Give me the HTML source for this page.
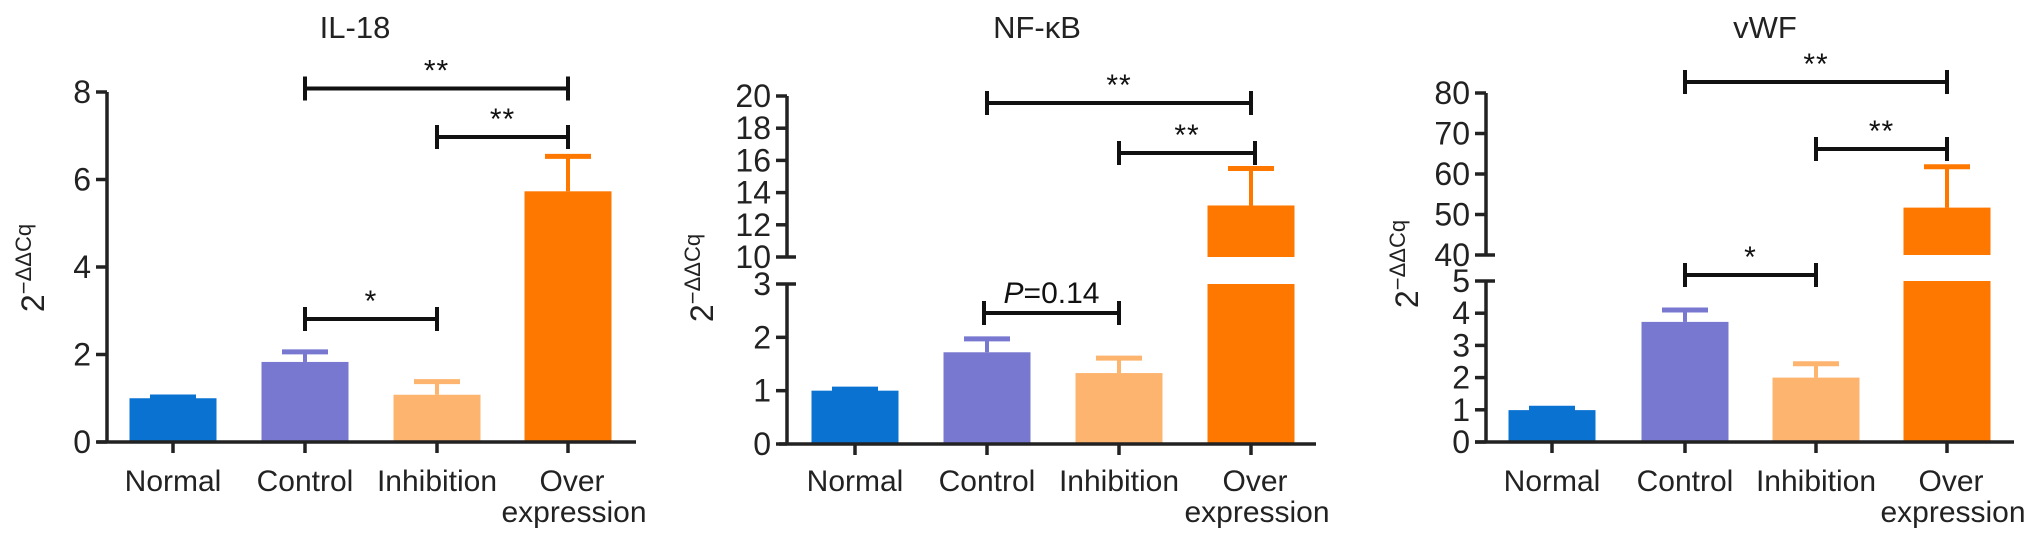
<!DOCTYPE html>
<html><head><meta charset="utf-8"><style>
html,body{margin:0;padding:0;background:#fff;}
svg{display:block;font-family:"Liberation Sans",Arial,sans-serif;}
</style></head><body>
<svg id="fig" width="2032" height="538" viewBox="0 0 2032 538"></svg>
<script>
const categories = ["Normal","Control","Inhibition","Over expression"];
const colors = ["#0a72d1","#7878d0","#fdb46e","#fe7800"];
const il18Values = [1.0, 1.83, 1.08, 5.73];
const il18Errors = [1.03, 2.06, 1.38, 6.53];
const il18Ticks = [0,2,4,6,8];
const nfkbValues = [1.0, 1.72, 1.33, 13.2];
const nfkbErrors = [1.03, 1.97, 1.61, 15.5];
const nfkbLowTicks = [0,1,2,3];
const nfkbHighTicks = [10,12,14,16,18,20];
const vwfValues = [0.99, 3.73, 2.0, 51.7];
const vwfErrors = [1.05, 4.1, 2.43, 61.8];
const vwfLowTicks = [0,1,2,3,4,5];
const vwfHighTicks = [40,50,60,70,80];

const NS="http://www.w3.org/2000/svg";
const svg=document.getElementById('fig');
function el(tag,attrs,parent){const e=document.createElementNS(NS,tag);for(const k in attrs)e.setAttribute(k,attrs[k]);(parent||svg).appendChild(e);return e;}

const panels=[
 {name:"il-18",title:"IL-18",titleX:355,axisX:107,x0:97,x1:636,centers:[173,305,437,568],
  segs:[{lo:0,hi:8,y0:442,y1:92,ticks:il18Ticks}],vals:il18Values,errs:il18Errors,ylabX:33,ylabY:268,
  brackets:[{a:1,b:3,y:88.5,t:"**"},{a:2,b:3,y:137,t:"**"},{a:1,b:2,y:319,t:"*"}]},
 {name:"nf-kb",title:"NF-κB",titleX:1037,axisX:787,x0:779,x1:1316,centers:[855,987,1119,1251],
  segs:[{lo:0,hi:3,y0:444,y1:284,ticks:nfkbLowTicks},{lo:10,hi:20,y0:257,y1:96,ticks:nfkbHighTicks}],
  vals:nfkbValues,errs:nfkbErrors,ylabX:702,ylabY:278,
  brackets:[{a:1,b:3,y:103,t:"**"},{a:2,b:3,y:153,t:"**",x1off:4},{a:1,b:2,y:313,t:"P",px:-2}]},
 {name:"vwf",title:"vWF",titleX:1765,axisX:1486,x0:1475,x1:2014,centers:[1552,1685,1816,1947],
  segs:[{lo:0,hi:5,y0:442,y1:281,ticks:vwfLowTicks},{lo:40,hi:80,y0:255,y1:93,ticks:vwfHighTicks}],
  vals:vwfValues,errs:vwfErrors,ylabX:1407,ylabY:264,
  brackets:[{a:1,b:3,y:82,t:"**"},{a:2,b:3,y:149,t:"**"},{a:1,b:2,y:275,t:"*"}]}
];
function yScale(p,v){
  for(let i=p.segs.length-1;i>=0;i--){const s=p.segs[i];if(v>=s.lo||i===0){const vv=Math.min(v,s.hi*1.2);return s.y0+(vv-s.lo)/(s.hi-s.lo)*(s.y1-s.y0);}}
}
const bw=87;
panels.forEach(p=>{
  const g=el('g',{});
  
  
  const t=el('text',{x:p.titleX,y:38,'text-anchor':'middle','font-size':31,fill:'#222'},g);
  
  
  t.textContent=p.title;
  const yl=el('text',{transform:`translate(${p.ylabX+11},${p.ylabY}) rotate(-90)`,'text-anchor':'middle','font-size':32,fill:'#222'},g);
  
  
  yl.innerHTML='2<tspan dy="-13" font-size="22">−ΔΔCq</tspan>';
  p.vals.forEach((v,i)=>{
    const cx=p.centers[i];
    const ye=yScale(p,p.errs[i]), yv=yScale(p,v);
    const eb=el('g',{},g);
    
    
    el('line',{x1:cx,x2:cx,y1:yv,y2:ye,stroke:colors[i],'stroke-width':4},eb);
    el('line',{x1:cx-23,x2:cx+23,y1:ye,y2:ye,stroke:colors[i],'stroke-width':5},eb);
    const bg=el('g',{},g);
    
    
    p.segs.forEach(s=>{
      if(v<=s.lo && s.lo>0) return;
      const top=Math.min(v,s.hi);
      const ya=s.y0+(top-s.lo)/(s.hi-s.lo)*(s.y1-s.y0);
      el('rect',{x:cx-bw/2,y:ya,width:bw,height:s.y0-ya,fill:colors[i]},bg);
    });
  });
  const ax=el('g',{stroke:'#222','stroke-width':3.5,fill:'none'},g);
  
  
  p.segs.forEach(s=>{
    el('line',{x1:p.axisX,x2:p.axisX,y1:s.y0,y2:s.y1},ax);
    s.ticks.forEach(tv=>{
      const y=s.y0+(tv-s.lo)/(s.hi-s.lo)*(s.y1-s.y0);
      el('line',{x1:p.axisX-11,x2:p.axisX,y1:y,y2:y},ax);
      if(s.lo>0 && tv===s.lo) el('line',{x1:p.axisX,x2:p.axisX+9,y1:y,y2:y},ax);
      const tl=el('text',{x:p.axisX-16,y:y+11,'text-anchor':'end','font-size':32,fill:'#222',stroke:'none'},g);
      
      
      tl.textContent=tv;
    });
    if(s.lo===0 && p.segs.length>1) el('line',{x1:p.axisX,x2:p.axisX+9,y1:s.y1,y2:s.y1},ax);
  });
  const xa=el('g',{stroke:'#222','stroke-width':3.5},g);
  
  
  const by=p.segs[0].y0;
  el('line',{x1:p.x0,x2:p.x1,y1:by,y2:by},xa);
  categories.forEach((c,i)=>{
    const cx=p.centers[i];
    el('line',{x1:cx,x2:cx,y1:by,y2:by+11},xa);
    const lab=el('text',{x:cx,y:491,'text-anchor':'middle','font-size':30,fill:'#222'},g);
    
    
    if(c==="Over expression"){lab.innerHTML='<tspan x="'+(cx+4)+'">Over</tspan><tspan x="'+(cx+6)+'" dy="31">expression</tspan>';}
    else lab.textContent=c;
  });
  p.brackets.forEach(b=>{
    const xa1=p.centers[b.a]+(b.t==="P"?-3:0), xb=p.centers[b.b]+(b.x1off||0);
    const bg=el('g',{stroke:'#111','stroke-width':4},g);
    
    
    el('line',{x1:xa1,x2:xb,y1:b.y,y2:b.y},bg);
    el('line',{x1:xa1,x2:xa1,y1:b.y-12,y2:b.y+12},bg);
    el('line',{x1:xb,x2:xb,y1:b.y-12,y2:b.y+12},bg);
    const mx=(xa1+xb)/2;
    const st=el('text',{x:mx,'text-anchor':'middle',fill:'#111'},g);
    
    
    if(b.t==="P"){st.setAttribute('y',b.y-10);st.setAttribute('font-size',30);st.innerHTML='<tspan font-style="italic">P</tspan>=0.14';}
    else{st.setAttribute('y',b.y-8);st.setAttribute('font-size',30);st.setAttribute('letter-spacing','1');st.textContent=b.t;}
  });
});
</script>
</body></html>
